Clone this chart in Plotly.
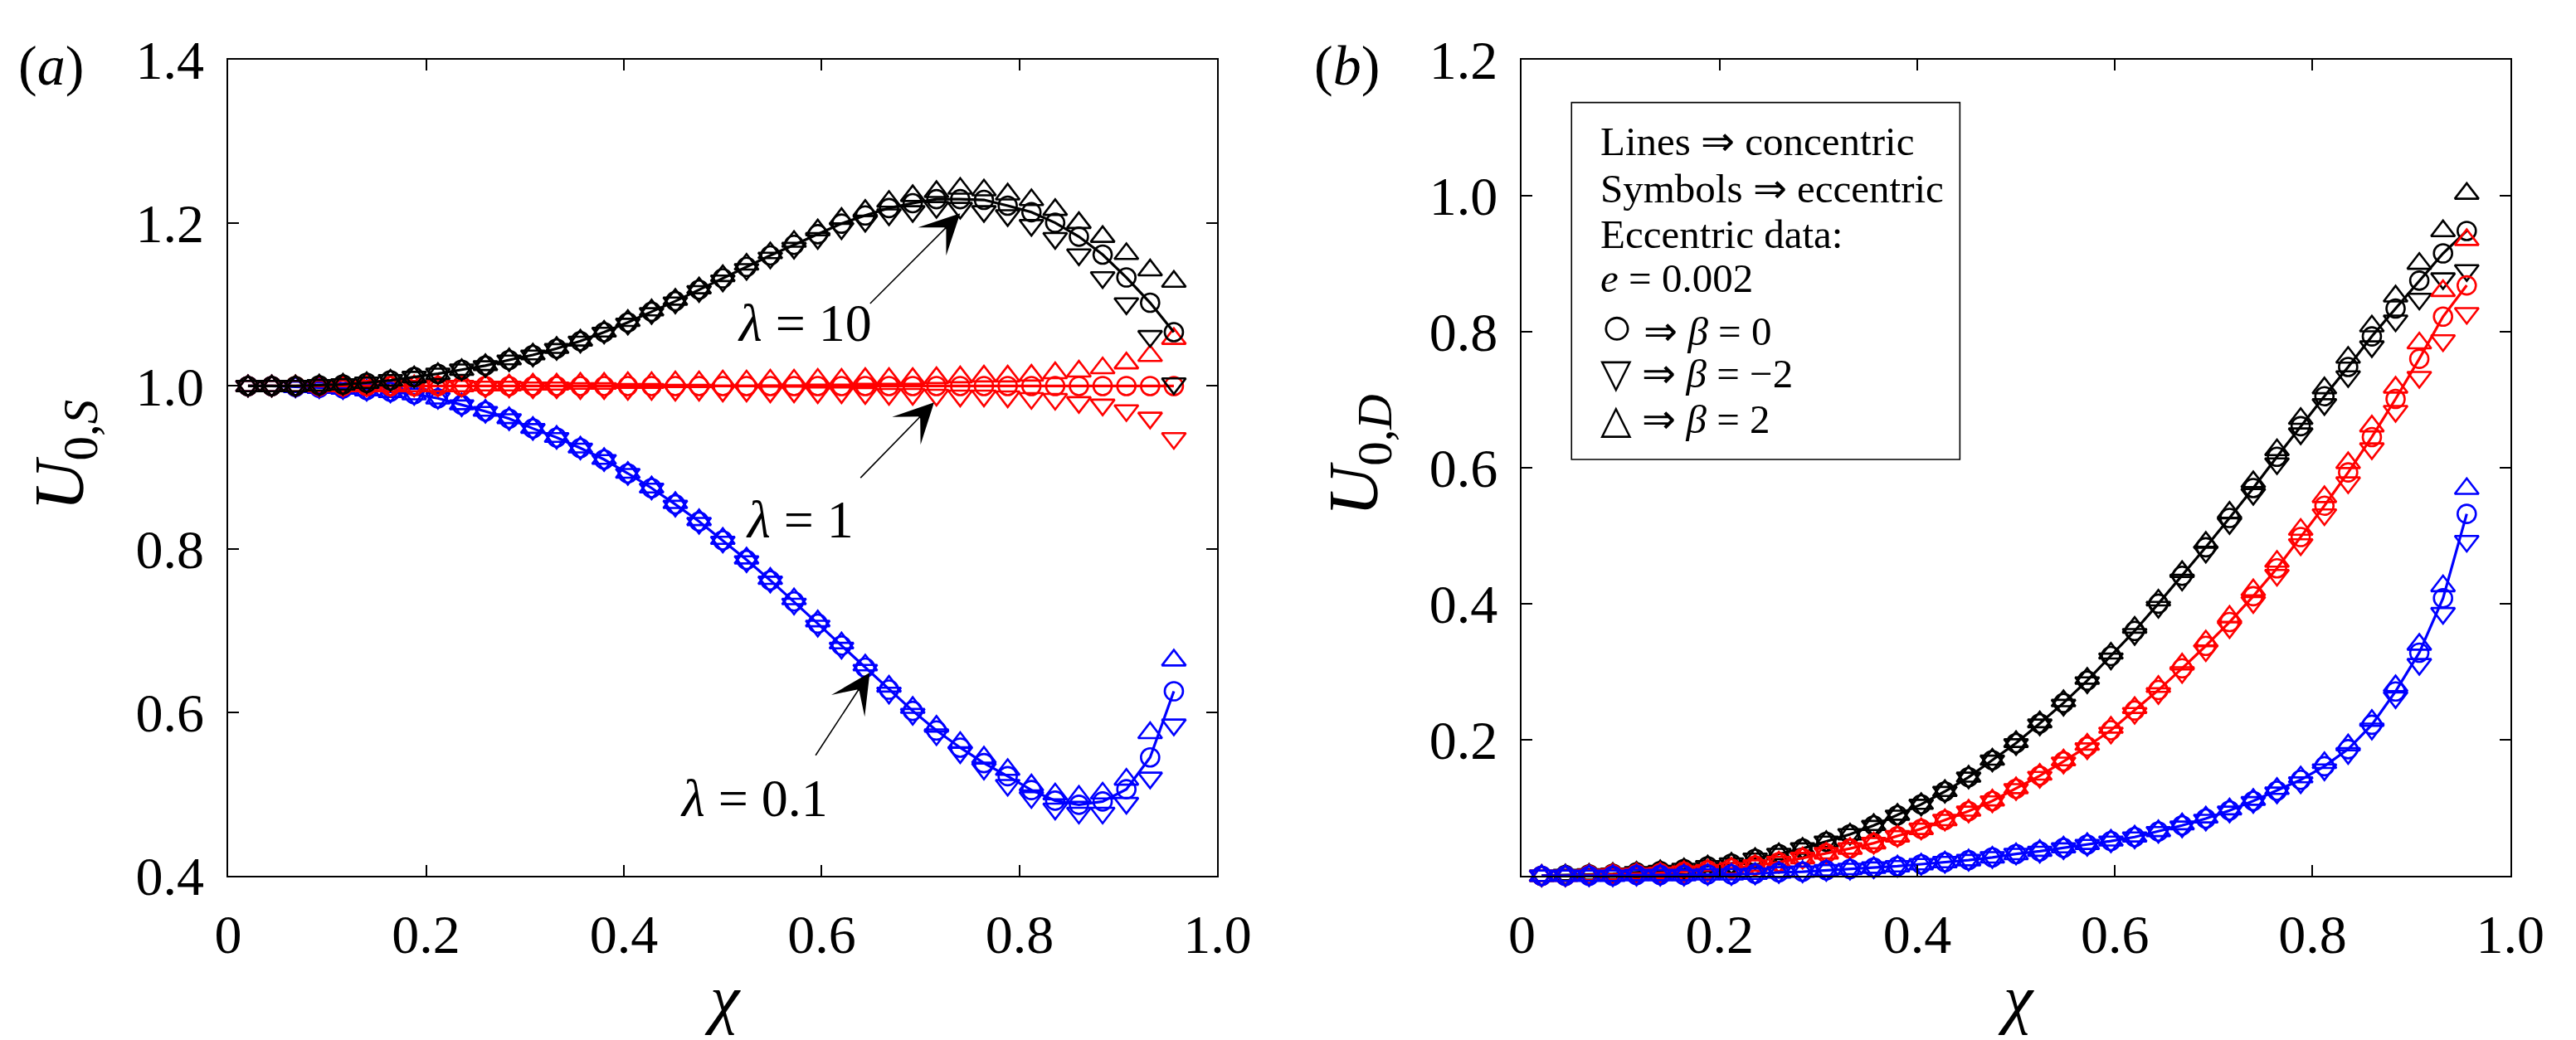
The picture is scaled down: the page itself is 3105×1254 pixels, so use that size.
import plotly.graph_objects as go

W, H = 3105, 1254
FONT = "Liberation Serif, Times New Roman, serif"

# chi grid shared by every curve
chi = [0.020, 0.044, 0.068, 0.092, 0.116, 0.140, 0.164, 0.188, 0.212, 0.236,
       0.260, 0.284, 0.308, 0.332, 0.356, 0.380, 0.404, 0.428, 0.452, 0.476,
       0.500, 0.524, 0.548, 0.572, 0.596, 0.620, 0.644, 0.668, 0.692, 0.716,
       0.740, 0.764, 0.788, 0.812, 0.836, 0.860, 0.884, 0.908, 0.932, 0.956]

# ---- panel (a): U_{0,S} ----
a_l10_b0 = [1.000, 1.000, 1.000, 1.001, 1.002, 1.004, 1.007, 1.011, 1.015, 1.020,
            1.025, 1.032, 1.038, 1.046, 1.055, 1.066, 1.078, 1.091, 1.104, 1.118,
            1.132, 1.146, 1.160, 1.173, 1.186, 1.199, 1.209, 1.218, 1.224, 1.229,
            1.229, 1.228, 1.221, 1.213, 1.200, 1.183, 1.161, 1.133, 1.102, 1.066]
a_l10_bp2 = [1.000, 1.000, 1.000, 1.001, 1.002, 1.004, 1.007, 1.011, 1.015, 1.020,
             1.026, 1.033, 1.039, 1.047, 1.056, 1.067, 1.080, 1.093, 1.106, 1.120,
             1.135, 1.149, 1.163, 1.177, 1.191, 1.205, 1.215, 1.226, 1.233, 1.238,
             1.242, 1.240, 1.235, 1.228, 1.216, 1.200, 1.183, 1.162, 1.142, 1.128]
a_l10_bm2 = [1.000, 1.000, 1.000, 1.001, 1.002, 1.004, 1.007, 1.011, 1.015, 1.020,
             1.024, 1.031, 1.037, 1.045, 1.054, 1.065, 1.076, 1.089, 1.102, 1.116,
             1.129, 1.143, 1.157, 1.169, 1.181, 1.193, 1.202, 1.210, 1.214, 1.219,
             1.218, 1.214, 1.209, 1.197, 1.181, 1.161, 1.133, 1.101, 1.061, 1.003]

a_l1_b0 = [1.000, 1.000, 1.000, 1.000, 1.000, 1.000, 1.000, 1.000, 1.000, 1.000,
           1.000, 1.000, 1.000, 1.000, 1.000, 1.000, 1.000, 1.000, 1.000, 1.000,
           1.000, 1.000, 1.000, 1.000, 1.000, 1.000, 1.000, 1.000, 1.000, 1.000,
           1.000, 1.000, 1.000, 1.000, 1.000, 1.000, 1.000, 1.000, 1.000, 1.000]
a_l1_bp2 = [1.000, 1.000, 1.000, 1.000, 1.000, 1.000, 1.000, 1.000, 1.000, 1.000,
            1.001, 1.001, 1.002, 1.002, 1.003, 1.003, 1.004, 1.004, 1.005, 1.005,
            1.006, 1.006, 1.007, 1.007, 1.008, 1.008, 1.009, 1.009, 1.009, 1.010,
            1.011, 1.012, 1.012, 1.013, 1.016, 1.018, 1.022, 1.028, 1.037, 1.058]
a_l1_bm2 = [1.000, 1.000, 1.000, 1.000, 1.000, 1.000, 1.000, 1.000, 1.000, 1.000,
            0.999, 0.999, 0.998, 0.998, 0.997, 0.997, 0.996, 0.996, 0.995, 0.995,
            0.994, 0.994, 0.993, 0.993, 0.992, 0.992, 0.991, 0.990, 0.990, 0.989,
            0.988, 0.988, 0.987, 0.985, 0.984, 0.980, 0.977, 0.970, 0.961, 0.936]

a_l01_b0 = [1.000, 1.000, 0.999, 0.998, 0.997, 0.995, 0.993, 0.990, 0.985, 0.977,
            0.969, 0.960, 0.948, 0.937, 0.924, 0.910, 0.893, 0.875, 0.855, 0.834,
            0.811, 0.787, 0.762, 0.736, 0.709, 0.682, 0.655, 0.628, 0.602, 0.578,
            0.557, 0.538, 0.522, 0.505, 0.492, 0.487, 0.491, 0.506, 0.545, 0.626]
a_l01_bp2 = [1.000, 1.000, 0.999, 0.998, 0.997, 0.995, 0.993, 0.990, 0.985, 0.978,
             0.970, 0.961, 0.949, 0.938, 0.925, 0.911, 0.894, 0.876, 0.857, 0.836,
             0.813, 0.789, 0.764, 0.739, 0.712, 0.685, 0.658, 0.632, 0.606, 0.583,
             0.563, 0.545, 0.530, 0.511, 0.500, 0.497, 0.501, 0.518, 0.575, 0.664]
a_l01_bm2 = [1.000, 1.000, 0.999, 0.998, 0.997, 0.995, 0.993, 0.990, 0.985, 0.976,
             0.968, 0.959, 0.947, 0.936, 0.923, 0.909, 0.892, 0.874, 0.853, 0.832,
             0.809, 0.785, 0.760, 0.733, 0.706, 0.679, 0.652, 0.624, 0.598, 0.573,
             0.551, 0.531, 0.511, 0.496, 0.482, 0.477, 0.477, 0.489, 0.520, 0.585]

# ---- panel (b): U_{0,D} ----
b_l10_b0 = [0.000, 0.001, 0.002, 0.003, 0.005, 0.007, 0.010, 0.014, 0.018, 0.025,
            0.032, 0.040, 0.050, 0.061, 0.074, 0.089, 0.105, 0.124, 0.145, 0.170,
            0.195, 0.224, 0.254, 0.287, 0.323, 0.360, 0.400, 0.441, 0.483, 0.526,
            0.570, 0.616, 0.661, 0.705, 0.748, 0.793, 0.834, 0.875, 0.915, 0.948]
b_l10_bp2 = [0.000, 0.001, 0.002, 0.003, 0.005, 0.007, 0.010, 0.014, 0.018, 0.025,
             0.032, 0.040, 0.050, 0.061, 0.075, 0.090, 0.106, 0.125, 0.146, 0.171,
             0.197, 0.226, 0.257, 0.290, 0.327, 0.365, 0.405, 0.447, 0.490, 0.534,
             0.579, 0.626, 0.672, 0.717, 0.762, 0.808, 0.852, 0.900, 0.948, 1.003]
b_l10_bm2 = [0.000, 0.001, 0.002, 0.003, 0.005, 0.007, 0.010, 0.014, 0.018, 0.025,
             0.032, 0.040, 0.050, 0.061, 0.073, 0.088, 0.104, 0.123, 0.144, 0.169,
             0.193, 0.222, 0.251, 0.284, 0.319, 0.355, 0.395, 0.435, 0.476, 0.518,
             0.561, 0.606, 0.650, 0.693, 0.734, 0.778, 0.816, 0.848, 0.878, 0.890]

b_l1_b0 = [0.000, 0.000, 0.001, 0.002, 0.003, 0.004, 0.006, 0.008, 0.011, 0.015,
           0.020, 0.026, 0.033, 0.040, 0.048, 0.058, 0.069, 0.082, 0.095, 0.110,
           0.128, 0.147, 0.168, 0.190, 0.214, 0.243, 0.273, 0.305, 0.338, 0.373,
           0.411, 0.452, 0.498, 0.544, 0.593, 0.645, 0.701, 0.760, 0.822, 0.868]
b_l1_bp2 = [0.000, 0.000, 0.001, 0.002, 0.003, 0.004, 0.006, 0.008, 0.011, 0.015,
            0.020, 0.026, 0.033, 0.040, 0.048, 0.058, 0.069, 0.082, 0.096, 0.111,
            0.129, 0.149, 0.170, 0.193, 0.218, 0.247, 0.278, 0.311, 0.345, 0.381,
            0.420, 0.462, 0.509, 0.557, 0.607, 0.661, 0.718, 0.783, 0.860, 0.935]
b_l1_bm2 = [0.000, 0.000, 0.001, 0.002, 0.003, 0.004, 0.006, 0.008, 0.011, 0.015,
            0.020, 0.026, 0.033, 0.040, 0.048, 0.058, 0.069, 0.082, 0.094, 0.109,
            0.127, 0.145, 0.166, 0.187, 0.210, 0.239, 0.268, 0.299, 0.331, 0.365,
            0.402, 0.442, 0.487, 0.531, 0.578, 0.628, 0.683, 0.733, 0.787, 0.827]

b_l01_b0 = [0.000, 0.000, 0.000, 0.000, 0.001, 0.001, 0.001, 0.002, 0.002, 0.003,
            0.005, 0.006, 0.008, 0.010, 0.012, 0.014, 0.017, 0.020, 0.023, 0.027,
            0.032, 0.036, 0.041, 0.046, 0.051, 0.057, 0.065, 0.074, 0.084, 0.096,
            0.110, 0.125, 0.141, 0.161, 0.186, 0.222, 0.271, 0.328, 0.408, 0.532]
b_l01_bp2 = [0.000, 0.000, 0.000, 0.000, 0.001, 0.001, 0.001, 0.002, 0.002, 0.003,
             0.005, 0.006, 0.008, 0.010, 0.012, 0.014, 0.017, 0.020, 0.023, 0.027,
             0.032, 0.037, 0.042, 0.047, 0.052, 0.058, 0.066, 0.076, 0.086, 0.098,
             0.112, 0.128, 0.145, 0.166, 0.192, 0.228, 0.279, 0.340, 0.426, 0.569]
b_l01_bm2 = [0.000, 0.000, 0.000, 0.000, 0.001, 0.001, 0.001, 0.002, 0.002, 0.003,
             0.005, 0.006, 0.008, 0.010, 0.012, 0.014, 0.017, 0.020, 0.023, 0.027,
             0.032, 0.035, 0.040, 0.045, 0.050, 0.056, 0.064, 0.072, 0.082, 0.094,
             0.108, 0.122, 0.137, 0.156, 0.180, 0.216, 0.262, 0.311, 0.386, 0.492]

x_ticks = [0, 0.2, 0.4, 0.6, 0.8, 1.0]
x_ticktext = ["0", "0.2", "0.4", "0.6", "0.8", "1.0"]
ya_ticks = [0.4, 0.6, 0.8, 1.0, 1.2, 1.4]
ya_ticktext = ["0.4", "0.6", "0.8", "1.0", "1.2", "1.4"]
yb_ticks = [0.2, 0.4, 0.6, 0.8, 1.0, 1.2]
yb_ticktext = ["0.2", "0.4", "0.6", "0.8", "1.0", "1.2"]


def px(x):
    return x / W


def py(y):
    return 1 - y / H


fig = go.Figure()


def add_group(xref, yref, b0, bp2, bm2, color):
    for ys, sym, size in [(bm2, "triangle-down-open", 25),
                          (bp2, "triangle-up-open", 25),
                          (b0, "circle-open", 22)]:
        fig.add_trace(go.Scatter(
            x=chi, y=ys, mode="markers", xaxis=xref, yaxis=yref,
            marker=dict(symbol=sym, size=size, color=color,
                        line=dict(width=2.6, color=color)),
            cliponaxis=False, showlegend=False, hoverinfo="skip"))
    # concentric result drawn as the line
    fig.add_trace(go.Scatter(
        x=chi, y=b0, mode="lines", xaxis=xref, yaxis=yref,
        line=dict(color=color, width=3.2), cliponaxis=False,
        showlegend=False, hoverinfo="skip"))


add_group("x", "y", a_l01_b0, a_l01_bp2, a_l01_bm2, "#0000ff")
add_group("x", "y", a_l1_b0, a_l1_bp2, a_l1_bm2, "#ff0000")
add_group("x", "y", a_l10_b0, a_l10_bp2, a_l10_bm2, "#000000")

add_group("x2", "y2", b_l10_b0, b_l10_bp2, b_l10_bm2, "#000000")
add_group("x2", "y2", b_l1_b0, b_l1_bp2, b_l1_bm2, "#ff0000")
add_group("x2", "y2", b_l01_b0, b_l01_bp2, b_l01_bm2, "#0000ff")

tickfont = dict(family=FONT, size=66, color="black")
common = dict(ticks="inside", ticklen=13, tickwidth=1.6, tickcolor="black",
              showline=True, linewidth=2, linecolor="black", mirror="ticks",
              showgrid=False, zeroline=False, tickfont=tickfont)

y_dom = [py(1083), py(38)]
fig.update_layout(
    width=W, height=H, autosize=False,
    margin=dict(l=0, r=0, t=0, b=0),
    paper_bgcolor="white", plot_bgcolor="white",
    xaxis=dict(domain=[px(263), px(1478)], range=[0, 1], tickvals=x_ticks,
               ticktext=x_ticktext, anchor="y", ticklabelstandoff=12, **common),
    yaxis=dict(domain=y_dom, range=[0.4, 1.4], tickvals=ya_ticks,
               ticktext=ya_ticktext, anchor="x", ticklabelstandoff=14, **common),
    xaxis2=dict(domain=[px(1852), px(3066)], range=[0, 1], tickvals=x_ticks,
                ticktext=x_ticktext, anchor="y2", ticklabelstandoff=12, **common),
    yaxis2=dict(domain=y_dom, range=[0, 1.2], tickvals=yb_ticks,
                ticktext=yb_ticktext, anchor="x2", ticklabelstandoff=14, **common),
)

ann = []


def label(xp, yp, text, size, angle=0, xanchor="center"):
    ann.append(dict(x=px(xp), y=py(yp), xref="paper", yref="paper",
                    text=text, showarrow=False, textangle=angle,
                    xanchor=xanchor, yanchor="middle",
                    font=dict(family=FONT, size=size, color="black")))


# panel letters and axis titles
label(45, 46, "(<i>a</i>)", 68)
label(1637, 46, "(<i>b</i>)", 68)
label(62, 545, "<i>U</i><sub>0,<i>S</i></sub>", 84, angle=-90)
label(1652, 545, "<i>U</i><sub>0,<i>D</i></sub>", 84, angle=-90)
label(870, 1240, "<i>χ</i>", 80)
label(2459, 1240, "<i>χ</i>", 80)

# lambda labels and arrows in panel (a)
lam_text = ["<i>λ</i> = 10", "<i>λ</i> = 1", "<i>λ</i> = 0.1"]
lam_pos = [(0.5136, 1.0775), (0.5218, 0.836), (0.455, 0.495)]
arrow_tail = [(0.6477, 1.0995), (0.638, 0.886), (0.593, 0.546)]
arrow_tip = [(0.740, 1.2115), (0.7136, 0.980), (0.6486, 0.649)]
for t, (tx, ty), (ax, ay), (hx, hy) in zip(lam_text, lam_pos, arrow_tail, arrow_tip):
    ann.append(dict(x=tx, y=ty, xref="x", yref="y", text=t, showarrow=False,
                    xanchor="left", yanchor="middle",
                    font=dict(family=FONT, size=64, color="black")))
    ann.append(dict(x=hx, y=hy, xref="x", yref="y", ax=ax, ay=ay,
                    axref="x", ayref="y", text="", showarrow=True,
                    arrowhead=3, arrowsize=5, arrowwidth=1.6,
                    arrowcolor="black"))

# key box in panel (b)
key_lines = ["Lines ⇒ concentric", "Symbols ⇒ eccentric", "Eccentric data:",
             "<i>e</i> = 0.002",
             "<span style='font-size:66px'>○</span> ⇒ <i>β</i> = 0",
             "▽ ⇒ <i>β</i> = −2",
             "△ ⇒ <i>β</i> = 2"]
key_y = [143, 203, 262, 318, 380, 440, 499]
for t, yy in zip(key_lines, key_y):
    label(1946, yy, t, 49, xanchor="left")

fig.update_layout(
    annotations=ann,
    shapes=[dict(type="rect", xref="paper", yref="paper",
                 x0=px(1913), y0=py(550), x1=px(2390), y1=py(93),
                 line=dict(color="black", width=1.6))])

fig.write_html("out.html", config={"displayModeBar": False},
               post_script="document.body.style.margin='0';")
